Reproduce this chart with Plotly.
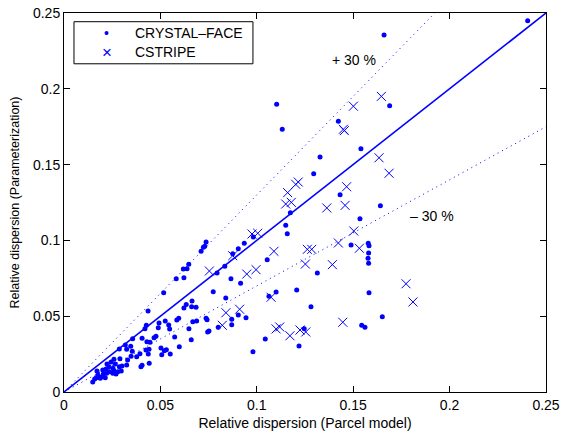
import plotly.graph_objects as go

# CRYSTAL-FACE (dots): parcel-model vs parameterization relative dispersion
cf_x = [0.0149, 0.0168, 0.0188, 0.0197, 0.0204, 0.0201, 0.0214, 0.0221, 0.0218, 0.0233,
        0.0235, 0.0253, 0.0254, 0.0258, 0.0279, 0.0297, 0.0287, 0.0301, 0.0259, 0.0290,
        0.0266, 0.0325, 0.0330, 0.0348, 0.0377, 0.0354, 0.0394, 0.0405, 0.0399, 0.0442,
        0.0437, 0.0441, 0.0287, 0.0318, 0.0346, 0.0325, 0.0356, 0.0405, 0.0430, 0.0446,
        0.0425, 0.0503, 0.0520, 0.0531, 0.0551, 0.0507, 0.0598, 0.0574, 0.0660, 0.0477,
        0.0467, 0.0493, 0.0489, 0.0427, 0.0420, 0.0525, 0.0543, 0.0548, 0.0585, 0.0595,
        0.0688, 0.0668, 0.0648, 0.0737, 0.0742, 0.0745, 0.0436, 0.0634, 0.0622, 0.0664,
        0.0662, 0.0685, 0.0517, 0.0582, 0.0622, 0.0619, 0.0638, 0.0647, 0.0711, 0.0723,
        0.0730, 0.0737, 0.0159, 0.0176, 0.0171, 0.0223, 0.0244, 0.0270, 0.0752, 0.0800,
        0.0870, 0.0870, 0.0904, 0.0944, 0.0774, 0.0794, 0.0834, 0.0866, 0.0916, 0.0875,
        0.0904, 0.0935, 0.0982, 0.0839, 0.1044, 0.0980, 0.1054, 0.1100, 0.1063, 0.1207,
        0.1219, 0.1150, 0.1158, 0.1174, 0.1103, 0.1132, 0.1328, 0.1295, 0.1423, 0.1540,
        0.1432, 0.1641, 0.1535, 0.1489, 0.1578, 0.1582, 0.1580, 0.1577, 0.1580, 0.1314,
        0.1582, 0.1281, 0.1651, 0.1544, 0.1561, 0.1246, 0.1689, 0.1660, 0.2405]
cf_y = [0.0066, 0.0094, 0.0090, 0.0101, 0.0119, 0.0145, 0.0094, 0.0123, 0.0152, 0.0167,
        0.0134, 0.0123, 0.0156, 0.0141, 0.0134, 0.0139, 0.0167, 0.0172, 0.0216, 0.0220,
        0.0185, 0.0178, 0.0211, 0.0235, 0.0233, 0.0268, 0.0253, 0.0176, 0.0167, 0.0189,
        0.0251, 0.0282, 0.0284, 0.0310, 0.0301, 0.0282, 0.0352, 0.0354, 0.0332, 0.0328,
        0.0277, 0.0290, 0.0272, 0.0279, 0.0251, 0.0246, 0.0299, 0.0363, 0.0345, 0.0367,
        0.0358, 0.0455, 0.0424, 0.0440, 0.0418, 0.0468, 0.0442, 0.0416, 0.0475, 0.0486,
        0.0468, 0.0464, 0.0418, 0.0486, 0.0477, 0.0396, 0.0534, 0.0578, 0.0554, 0.0600,
        0.0563, 0.0559, 0.0655, 0.0747, 0.0754, 0.0811, 0.0813, 0.0842, 0.0928, 0.0954,
        0.0961, 0.0989, 0.0086, 0.0112, 0.0139, 0.0185, 0.0198, 0.0119, 0.0402, 0.0427,
        0.0480, 0.0444, 0.0508, 0.0490, 0.0662, 0.0785, 0.0829, 0.0747, 0.0717, 0.0912,
        0.0945, 0.0981, 0.1022, 0.0620, 0.0350, 0.0266, 0.0873, 0.0660, 0.0631, 0.0673,
        0.0303, 0.1100, 0.1044, 0.1183, 0.1898, 0.1733, 0.1550, 0.1440, 0.1786, 0.1605,
        0.1301, 0.1229, 0.1143, 0.0970, 0.0981, 0.0965, 0.0917, 0.0882, 0.0849, 0.0785,
        0.0655, 0.0563, 0.0497, 0.0440, 0.0427, 0.0418, 0.1889, 0.2355, 0.2449]

# CSTRIPE (crosses)
cs_x = [0.0754, 0.0875, 0.0975, 0.1005, 0.1150, 0.1179, 0.0948, 0.0996, 0.1089, 0.0840,
        0.0911, 0.0821, 0.1100, 0.1119, 0.1172, 0.1224, 0.1254, 0.1074, 0.1646, 0.1501,
        0.1449, 0.1454, 0.1634, 0.1686, 0.1215, 0.1202, 0.1160, 0.1466, 0.1458, 0.1363,
        0.1503, 0.1423, 0.1532, 0.1262, 0.1285, 0.1252, 0.1392, 0.1446, 0.1774, 0.1810]
cs_y = [0.0798, 0.0899, 0.1042, 0.1047, 0.1240, 0.1251, 0.0778, 0.0807, 0.0928, 0.0523,
        0.0546, 0.0440, 0.0416, 0.0429, 0.0371, 0.0409, 0.0396, 0.0625, 0.1950, 0.1885,
        0.1733, 0.1724, 0.1545, 0.1443, 0.1385, 0.1370, 0.1315, 0.1354, 0.1231, 0.1214,
        0.1062, 0.0983, 0.0948, 0.0941, 0.0941, 0.0844, 0.0840, 0.0460, 0.0714, 0.0594]

series_names = ["CRYSTAL\u2013FACE", "CSTRIPE"]
legend_symbols = ["\u2022", "\u00d7"]

line_x = [0.0, 0.25]
ratio_main = 1.0
ratio_hi = 1.3
ratio_lo = 0.7

tick_vals = [0, 0.05, 0.1, 0.15, 0.2, 0.25]
tick_text = ["0", "0.05", "0.1", "0.15", "0.2", "0.25"]

BLUE = "#0000ff"
FONT = "Liberation Sans, Arial, Helvetica, sans-serif"

fig = go.Figure()

fig.add_trace(go.Scatter(x=line_x, y=[v * ratio_main for v in line_x], mode="lines",
                         line=dict(color=BLUE, width=1.6), showlegend=False, hoverinfo="skip"))
fig.add_trace(go.Scatter(x=line_x, y=[v * ratio_hi for v in line_x], mode="lines",
                         line=dict(color=BLUE, width=1, dash="1px,4px"), showlegend=False,
                         hoverinfo="skip"))
fig.add_trace(go.Scatter(x=line_x, y=[v * ratio_lo for v in line_x], mode="lines",
                         line=dict(color=BLUE, width=1, dash="1px,4px"), showlegend=False,
                         hoverinfo="skip"))

fig.add_trace(go.Scatter(x=cf_x, y=cf_y, mode="markers", name=series_names[0], showlegend=False,
                         marker=dict(symbol="circle", size=5, color=BLUE, line=dict(width=0))))
fig.add_trace(go.Scatter(x=cs_x, y=cs_y, mode="markers", name=series_names[1], showlegend=False,
                         marker=dict(symbol="x-thin-open", size=9, color=BLUE,
                                     line=dict(width=1, color=BLUE))))

fig.add_annotation(x=0.1504, y=0.219, text="+ 30 %", showarrow=False,
                   font=dict(family=FONT, size=14, color="black"))
fig.add_annotation(x=0.1909, y=0.116, text="\u2013 30 %", showarrow=False,
                   font=dict(family=FONT, size=14, color="black"))

# legend box (drawn in paper coordinates)
leg_x0, leg_x1 = 0.0207, 0.392
leg_y0, leg_y1 = 0.866, 0.977
fig.add_shape(type="rect", xref="paper", yref="paper", x0=leg_x0, x1=leg_x1,
              y0=leg_y0, y1=leg_y1, line=dict(color="black", width=1),
              fillcolor="white", layer="above")
row_y = [0.946, 0.896]
for name, sym, yy in zip(series_names, legend_symbols, row_y):
    fig.add_annotation(xref="paper", yref="paper", x=0.0886, y=yy, text=sym,
                       showarrow=False, xanchor="center", yanchor="middle",
                       font=dict(family=FONT, size=14 if sym == "\u2022" else 17, color=BLUE))
    fig.add_annotation(xref="paper", yref="paper", x=0.144, y=yy, text=name,
                       showarrow=False, xanchor="left", yanchor="middle",
                       font=dict(family=FONT, size=14, color="black"))

axis_common = dict(range=[0, 0.25], tickvals=tick_vals, ticktext=tick_text,
                   ticks="inside", ticklen=6, tickcolor="black", tickwidth=1,
                   showline=True, linecolor="black", linewidth=1, mirror="ticks",
                   showgrid=False, zeroline=False,
                   tickfont=dict(family=FONT, size=14, color="black"))

fig.update_xaxes(**axis_common,
                 title=dict(text="Relative dispersion (Parcel model)", standoff=6,
                            font=dict(family=FONT, size=14, color="black")))
fig.update_yaxes(**axis_common,
                 title=dict(text="Relative dispersion (Parameterization)", standoff=10,
                            font=dict(family=FONT, size=12.5, color="black")))

fig.update_layout(
    width=561, height=437,
    margin=dict(l=64, r=15, t=13, b=45, autoexpand=False),
    paper_bgcolor="white", plot_bgcolor="white",
    font=dict(family=FONT, size=14, color="black"),
    showlegend=False,
)

fig.write_html("out.html")
